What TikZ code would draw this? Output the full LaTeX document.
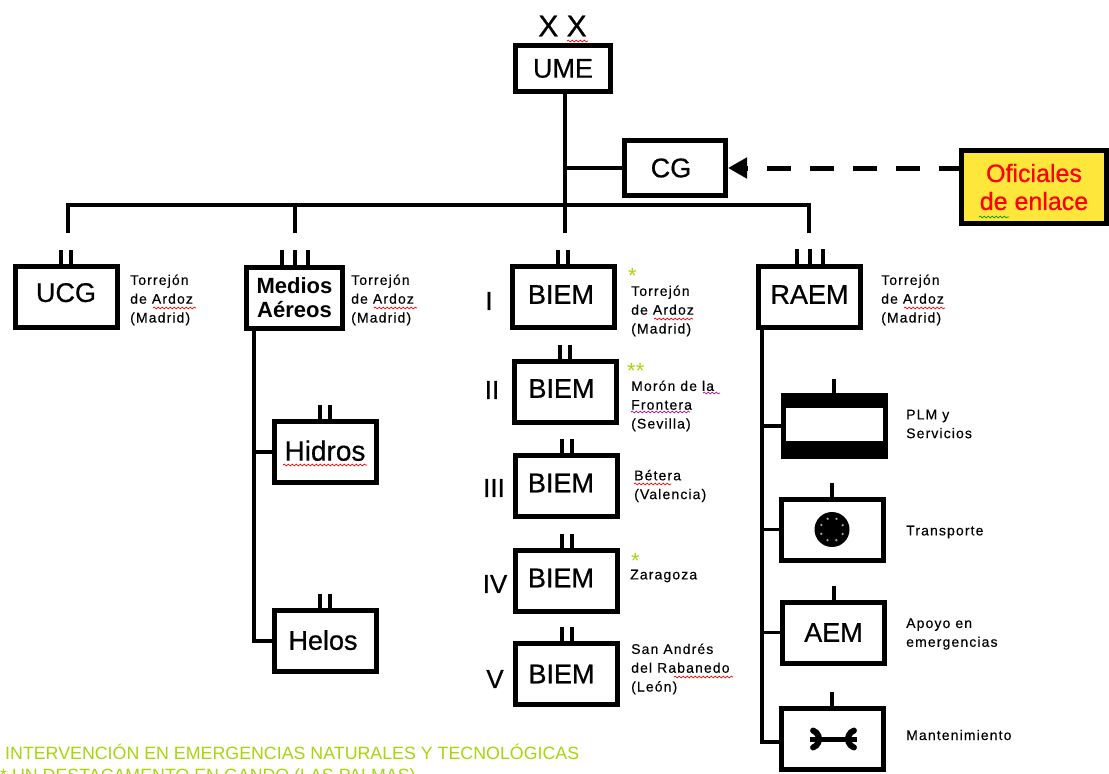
\documentclass[tikz,border=0pt]{standalone}
\usepackage{fontspec}
\usepackage{xcolor}
\usepackage{tikz}
\usetikzlibrary{positioning,arrows.meta,decorations.pathmorphing}
\setmainfont{Liberation Sans}
\newfontfamily\unitfont[FakeBold=0.6]{Liberation Sans}
\newfontfamily\placefont[LetterSpace=8,FakeBold=0.3]{Liberation Sans}
\definecolor{notegreen}{HTML}{A6D60A}
\definecolor{liaisonyellow}{HTML}{FFE63A}
\newcommand{\nudged}[3]{\raisebox{#3pt}{#1\hspace*{#2pt}}}

\tikzset{
	unitbox/.style={draw, line width=5pt, fill=white, align=center, inner sep=0pt, minimum width=102pt, minimum height=61pt, font=\unitfont\fontsize{27}{28}\selectfont},
	link/.style={line width=4.5pt},
	thinlink/.style={line width=3.5pt},
	tickmark/.style={line width=4pt},
	place/.style={align=left, anchor=west, inner sep=0pt, font=\placefont\fontsize{14}{18.8}\selectfont},
	roman/.style={inner sep=0pt, font=\unitfont\fontsize{26}{27}\selectfont},
	greennote/.style={anchor=west, inner sep=0pt, text=notegreen, font=\fontsize{17.8}{18}\selectfont},
	greenstar/.style={greennote, font=\fontsize{22}{22}\selectfont},
	squiggle/.style={#1, line width=0.7pt, decorate, decoration={snake, amplitude=0.9pt, segment length=4pt}}
}

\begin{document}
\begin{tikzpicture}[x=1pt, y=-1pt, node distance=94.5pt]
	\useasboundingbox (0,0) rectangle (1109,774);

	% command
	\node[unitbox, minimum width=95pt, minimum height=46pt] (ume) at (563,68.5) {UME};
	\node[font=\unitfont\fontsize{30}{31}\selectfont, inner sep=0pt] (xx) at (562.5,26) {X X};
	\node[unitbox, minimum width=101pt, minimum height=55pt] (cg) at (675,168) {\nudged{CG}{8}{0}};
	\node[unitbox, fill=liaisonyellow, text=red, minimum width=145pt, minimum height=73pt, font=\unitfont\fontsize{25}{28}\selectfont] (enlace) at (1034,187) {Oficiales\\de enlace};

	% first row
	\node[unitbox] (ucg) at (66,296.5) {\nudged{UCG}{0}{8}};
	\node[unitbox, minimum width=96pt, font=\fontsize{22}{24}\selectfont\bfseries] (medios) at (294.5,298) {Medios\\Aéreos};
	\node[unitbox] (biem1) at (563,297) {\nudged{BIEM}{4}{5}};
	\node[unitbox] (raem) at (809.5,296.5) {\nudged{RAEM}{0}{4}};

	\node[unitbox] (biem2) [below of=biem1, xshift=2pt] {\nudged{BIEM}{7}{6}};
	\node[unitbox] (biem3) [below of=biem2, xshift=1.5pt] {\nudged{BIEM}{11}{6}};
	\node[unitbox] (biem4) [below of=biem3] {\nudged{BIEM}{11}{5}};
	\node[unitbox] (biem5) [below of=biem4, yshift=1pt] {\nudged{BIEM}{10}{-3}};

	\node[unitbox, font=\unitfont\fontsize{28}{29}\selectfont] (hidros) at (325,452) {\nudged{Hidros}{0}{3}};
	\node[unitbox] (helos) at (325,641) {\nudged{Helos}{4}{2}};

	\node[unitbox] (plm) at (834,426) {};
	\node[unitbox] (transporte) at (832,529.5) {};
	\node[unitbox] (aem) at (833.5,632.5) {AEM};
	\node[unitbox] (mant) at (832,739) {};

	% thick bands of the PLM box
	\fill (plm.north west) rectangle ([yshift=-15pt]plm.north east);
	\fill ([yshift=18pt]plm.south west) rectangle (plm.south east);

	% wheel
	\node[circle, fill, minimum size=35pt, inner sep=0pt] (wheel) at (transporte.center) {};
	\foreach \a in {22,67,...,337}
		\fill[white!65!black] (wheel.center) ++(\a:11.5pt) circle (1.3pt);

	% spanner
	\coordinate (spanl) at ([xshift=-22pt]mant.center);
	\coordinate (spanr) at ([xshift=25pt]mant.center);
	\draw[line width=5pt] (spanl) -- (spanr);
	\draw[line width=6pt, line cap=round] (spanl) ++(-70:9pt) arc[start angle=-70, end angle=70, radius=9pt];
	\draw[line width=6pt, line cap=round] (spanr) ++(110:9pt) arc[start angle=110, end angle=250, radius=9pt];

	% connectors
	\coordinate (barleft) at (68,205);
	\coordinate (barmid) at (295,205);
	\coordinate (barcentre) at (565,205);
	\coordinate (barright) at (809,205);
	\coordinate (cgjoin) at (565,168);
	\coordinate (ucgstub) at (68,233);
	\coordinate (mediosstub) at (295,233);
	\coordinate (biemstub) at (565,233);
	\coordinate (raemstub) at (809,233);
	\coordinate (enlacejoin) at (enlace.west |- cg.east);

	\draw[link] (ume.south -| cgjoin) -- (cgjoin) -- (barcentre) -- (biemstub);
	\draw[link] (cgjoin) -- (cg.west);
	\draw[link] (ucgstub) -- (barleft) -- (barright) -- (raemstub);
	\draw[link] (barmid) -- (mediosstub);
	\draw[link, line width=5pt, -{Triangle[length=19pt,width=20pt]}, dash pattern=on 24pt off 19pt, dash phase=4pt] (enlacejoin) -- (cg.east);

	\coordinate (mediosturn) at (254,641);
	\draw[thinlink] (medios.south -| mediosturn) -- (mediosturn) -- (helos.west);
	\draw[link] (hidros.west) -- (hidros.west -| mediosturn);

	\coordinate (raemturn) at (762,742);
	\draw[link] (raem.south -| raemturn) -- (raemturn) -- (raemturn -| mant.west);
	\draw[thinlink] (raemturn |- plm.west) -- (plm.west);
	\draw[thinlink] (raemturn |- transporte.west) -- (transporte.west);
	\draw[thinlink] (raemturn |- aem.west) -- (aem.west);

	% echelon marks
	\foreach \n in {ucg,biem1,biem2,biem3,biem4,biem5,hidros,helos}
		\foreach \d in {-5,5}
			\draw[tickmark] ([xshift=\d pt]\n.north) -- ++(0,-14);
	\foreach \n in {medios,raem}
		\foreach \d in {-13,0,13}
			\draw[tickmark] ([xshift=\d pt]\n.north) -- ++(0,-15);
	\foreach \n in {plm,transporte,aem,mant}
		\draw[tickmark] (\n.north) -- ++(0,-14);

	% numerals
	\node[roman] (r1) at (489,301) {I};
	\node[roman] (r2) at (492,390) {II};
	\node[roman] (r3) at (494,488) {III};
	\node[roman] (r4) at (495,584) {IV};
	\node[roman] (r5) at (495,679) {V};

	% places
	\node[place] (pucg) at (130,300) {Torrejón\\de Ardoz\\(Madrid)};
	\node[place] (pmedios) at (351,300) {Torrejón\\de Ardoz\\(Madrid)};
	\node[place] (pbiem1) at (631,311) {Torrejón\\de Ardoz\\(Madrid)};
	\node[place] (pbiem2) at (631,406) {Morón de la\\Frontera\\(Sevilla)};
	\node[place] (pbiem3) at (634,486) {Bétera\\(Valencia)};
	\node[place] (pbiem4) at (630,576) {Zaragoza};
	\node[place] (pbiem5) at (631,669) {San Andrés\\del Rabanedo\\(León)};
	\node[place] (praem) at (881,300) {Torrejón\\de Ardoz\\(Madrid)};
	\node[place] (pplm) at (906,424) {PLM y\\Servicios};
	\node[place] (ptransporte) at (906,532) {Transporte};
	\node[place] (paem) at (906,634) {Apoyo en\\emergencias};
	\node[place] (pmant) at (906,735) {Mantenimiento};

	% stars and footnotes
	\node[greenstar] (s1) at (628,276) {*};
	\node[greenstar] (s2) at (627,371) {**};
	\node[greenstar] (s4) at (631,561) {*};
	\node[greennote] (note1) at (5,752) {INTERVENCIÓN EN EMERGENCIAS NATURALES Y TECNOLÓGICAS};
	\node[greennote] (note2) at (0,777) {* UN DESTACAMENTO EN GANDO (LAS PALMAS)};

	% spelling marks
	\foreach \xa/\xb/\ya in {567/588/41,153/196/308,374/417/308,654/693/319,904/945/308,674/733/677,634/671/484,283/367/465}
		\draw[squiggle=red] (\xa,\ya) -- (\xb,\ya);
	\draw[squiggle=green!60!black] (979,217) -- (1009,217);
	\draw[squiggle=magenta!70!blue] (703,393) -- (720,393);
	\draw[squiggle=magenta!70!blue] (631,412) -- (690,412);
\end{tikzpicture}
\end{document}
